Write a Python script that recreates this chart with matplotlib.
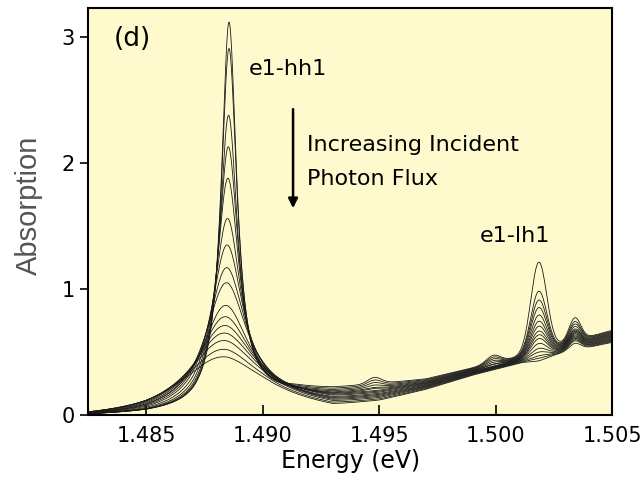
import numpy as np
import matplotlib
matplotlib.use("Agg")
import matplotlib.pyplot as plt

# ===================== DATA =====================
# e1-hh1 exciton: peak absorption of each spectrum, centre (eV), half width (meV)
hh1_peak = [3.12, 2.91, 2.38, 2.13, 1.88, 1.56, 1.35, 1.17, 1.05, 0.87, 0.78, 0.71, 0.65, 0.59, 0.52, 0.46]
hh1_center = [1.48855, 1.48855, 1.48853, 1.48852, 1.48850, 1.48848, 1.48846, 1.48844,
              1.48842, 1.48838, 1.48835, 1.48832, 1.48828, 1.48824, 1.48820, 1.48815]
hh1_hwhm = [0.40, 0.42, 0.48, 0.53, 0.60, 0.72, 0.85, 0.98, 1.10, 1.25, 1.40, 1.55, 1.70, 1.85, 2.00, 2.20]

# e1-lh1 exciton peak absorption (last spectra show no peak)
lh1_peak = [1.21, 0.98, 0.91, 0.85, 0.79, 0.74, 0.70, 0.66, 0.63, 0.60, 0.56, 0.52, 0.49, 0.46, 0.44, 0.42]
lh1_center = 1.50185

# small feature at 1.5034 eV, peak absorption
side_peak = [0.77, 0.74, 0.72, 0.70, 0.68, 0.67, 0.66, 0.65, 0.64, 0.63, 0.62, 0.61, 0.60, 0.59, 0.58, 0.56]
side_center = 1.5034

# weak bumps at 1.4948 and 1.4999 eV (height above background)
bump_E = [1.4948, 1.4999]
bump_h = [[0.05, 0.06], [0.04, 0.05], [0.03, 0.04], [0.02, 0.03], [0.01, 0.02], [0.01, 0.01],
          [0.0, 0.01], [0.0, 0.0], [0.0, 0.0], [0.0, 0.0], [0.0, 0.0], [0.0, 0.0],
          [0.0, 0.0], [0.0, 0.0], [0.0, 0.0], [0.0, 0.0]]

# background absorption, upper (low flux) and lower (high flux) spectra
base_E = [1.4825, 1.4850, 1.4870, 1.4885, 1.4900, 1.4915, 1.4930, 1.4950, 1.4970, 1.4990, 1.5010, 1.5030, 1.5050]
base_top = [0.00, 0.01, 0.03, 0.08, 0.15, 0.19, 0.20, 0.24, 0.28, 0.37, 0.46, 0.57, 0.67]
base_low = [-0.03, -0.02, 0.01, 0.05, 0.06, 0.04, 0.02, 0.08, 0.18, 0.30, 0.40, 0.49, 0.57]

# ===================== PLOT =====================
E = np.linspace(1.4825, 1.505, 1200)
n = len(hh1_peak)

fig = plt.figure(figsize=(6.43, 4.82), dpi=100)
ax = fig.add_axes([0.137, 0.139, 0.815, 0.844])
ax.set_facecolor("#fffacd")


def background(x, t):
    return (1 - t) * np.interp(x, base_E, base_top) + t * np.interp(x, base_E, base_low)


for i in range(n):
    t = i / (n - 1)
    base = background(E, t)
    g = hh1_hwhm[i] * 1e-3
    hh = (hh1_peak[i] - background(hh1_center[i], t)) / (1 + ((E - hh1_center[i]) / g) ** 2)
    lh = (lh1_peak[i] - background(lh1_center, t)) * np.exp(-0.5 * ((E - lh1_center) / 0.00034) ** 2)
    sp = max(side_peak[i] - background(side_center, t), 0) * np.exp(-0.5 * ((E - side_center) / 0.00025) ** 2)
    bp = sum(h * np.exp(-0.5 * ((E - e0) / 0.0003) ** 2) for e0, h in zip(bump_E, bump_h[i]))
    ax.plot(E, base + hh + lh + sp + bp, color="#1a1a1a", lw=0.6)

ax.set_xlim(1.4825, 1.505)
ax.set_ylim(0, 3.23)
ax.set_xticks([1.485, 1.490, 1.495, 1.500, 1.505])
ax.set_xticklabels(["1.485", "1.490", "1.495", "1.500", "1.505"])
ax.set_yticks([0, 1, 2, 3])
ax.tick_params(axis="x", direction="in", length=7, width=1.2, labelsize=15, pad=8)
ax.tick_params(axis="y", direction="out", length=6, width=1.2, labelsize=15)
for s in ax.spines.values():
    s.set_linewidth(1.5)

ax.set_xlabel("Energy (eV)", fontsize=17, labelpad=2)
fig.text(0.045, 0.575, "Absorption", rotation=90, fontsize=21, color="#555555",
         family="Liberation Sans", ha="center", va="center")

ax.text(1.4836, 2.93, "(d)", fontsize=19)
ax.text(1.4894, 2.7, "e1-hh1", fontsize=16)
ax.annotate("", xy=(1.4913, 1.62), xytext=(1.4913, 2.45),
            arrowprops=dict(arrowstyle="-|>", color="black", lw=1.8, mutation_scale=14))
ax.text(1.4919, 2.1, "Increasing Incident", fontsize=16)
ax.text(1.4919, 1.83, "Photon Flux", fontsize=16)
ax.text(1.4993, 1.37, "e1-lh1", fontsize=16)

fig.savefig("out.png", dpi=100)
